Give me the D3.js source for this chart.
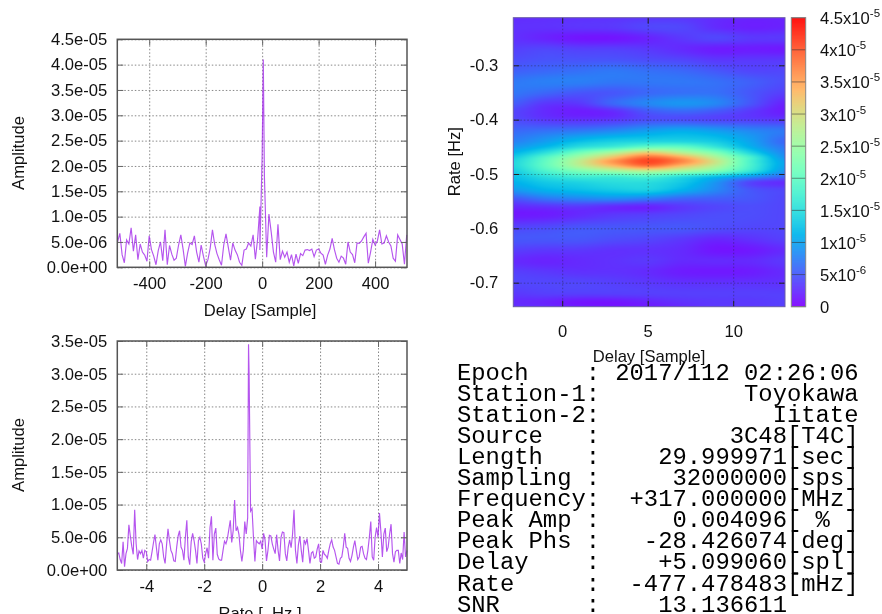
<!DOCTYPE html>
<html>
<head>
<meta charset="utf-8" />
<script src="https://cdn.jsdelivr.net/npm/d3@7"></script>
<style>
html, body { margin: 0; padding: 0; background: #fff; overflow: hidden; }
svg { display: block; filter: blur(0.55px); }
text { font-family: "Liberation Sans", Arial, sans-serif; font-size: 16.6px; fill: #111; }
.info text { font-family: "Liberation Mono", monospace; font-size: 23.85px; fill: #000; white-space: pre; }
.domain { display: none; }
</style>
</head>
<body>
<div id="chart"></div>
<script>
// all amplitudes below are in units of 1e-6
const delaySamples = d3.range(-512, 513, 8);
const delayAmp = [
    5.0, 6.7, 2.5, 0.9, 5.4, 4.6, 7.8, 3.2, 6.4, 1.5, 4.6, 3.0, 2.4, 1.2, 6.2, 3.5,
    2.2, 0.5, 3.3, 5.0, 1.3, 7.4, 0.5, 4.3, 2.6, 1.4, 1.8, 4.4, 6.4, 3.6, 0.2, 2.8,
    4.8, 4.5, 6.2, 3.0, 1.0, 4.4, 2.2, 0.3, 1.5, 3.8, 7.4, 4.5, 2.7, 1.5, 0.4, 4.4,
    6.6, 4.0, 1.4, 4.8, 3.4, 2.5, 1.0, 0.4, 3.4, 3.6, 4.8, 4.2, 6.4, 1.6, 5.6, 3.4,
    22.0, 18.0, 2.0, 10.5, 7.0, 3.0, 1.0, 8.5, 1.5, 3.2, 2.0, 3.0, 1.0, 2.5, 0.3, 2.6,
    0.8, 2.7, 2.3, 3.4, 3.5, 3.3, 3.6, 2.1, 3.4, 3.6, 2.8, 2.4, 0.6, 2.4, 3.6, 5.7,
    3.5, 1.8, 1.0, 2.2, 1.8, 0.6, 5.0, 3.0, 2.5, 0.9, 4.8, 4.7, 5.2, 6.0, 6.7, 0.8,
    3.0, 5.5, 4.4, 5.2, 7.4, 4.6, 4.8, 6.2, 5.0, 4.2, 1.8, 1.2, 6.4, 5.5, 4.6, 0.6, 6.4
];
const delayPeakSamples = [-8.01, -4, 4];
const delayPeakAmp = [12.0, 12.5, 41.0];

const rateHz = d3.range(0, 201).map(i => (i - 100) / 20);
const rateAmp = [
    2.4, 2.6, 1.6, 1.0, 4.3, 0.5, 2.5, 3.3, 6.9, 5.2, 3.6, 2.4, 9.2, 4.0, 1.6, 2.9,
    2.5, 3.0, 1.8, 3.0, 2.8, 1.3, 1.6, 1.5, 2.8, 4.2, 5.4, 3.4, 1.5, 4.0, 4.6, 4.0,
    2.0, 1.0, 3.8, 6.3, 4.5, 3.0, 2.5, 1.4, 1.3, 3.5, 5.2, 6.0, 3.5, 3.0, 1.5, 5.0,
    7.6, 2.0, 0.8, 4.3, 5.6, 4.5, 3.0, 1.0, 4.5, 5.0, 4.0, 1.8, 1.2, 2.5, 3.4, 1.8,
    6.5, 8.2, 1.5, 5.5, 6.4, 2.4, 1.7, 1.5, 1.5, 3.0, 4.4, 4.0, 4.8, 6.2, 7.6, 4.2,
    6.0, 10.7, 6.0, 6.5, 5.4, 3.0, 1.3, 3.0, 7.4, 5.5, 8.0, 30.0, 9.0, 9.4, 5.0, 1.3,
    4.5, 4.2, 4.0, 4.4, 3.2, 5.6, 4.6, 1.4, 3.0, 5.3, 5.2, 4.0, 3.2, 2.5, 5.4, 3.0,
    1.4, 5.0, 5.8, 5.7, 2.5, 1.4, 3.5, 4.6, 3.4, 5.5, 9.2, 3.0, 1.0, 3.8, 5.2, 3.0,
    1.2, 4.6, 4.0, 4.8, 3.0, 1.0, 2.6, 2.8, 1.8, 2.0, 3.2, 4.0, 1.3, 1.2, 3.0, 2.4,
    2.2, 1.8, 3.0, 4.0, 4.6, 3.5, 3.0, 2.0, 1.0, 0.9, 1.8, 2.0, 3.5, 5.6, 3.5, 3.3,
    1.8, 1.3, 2.2, 3.5, 4.5, 3.0, 1.6, 2.0, 3.5, 3.6, 2.5, 1.8, 1.6, 3.0, 5.0, 7.4,
    2.0, 1.5, 5.0, 6.5, 5.0, 8.7, 5.8, 2.0, 5.5, 6.4, 2.8, 3.5, 5.5, 7.0, 2.5, 1.2,
    2.8, 3.0, 3.0, 1.0, 2.6, 1.6, 5.8, 2.0, 3.0
];
const ratePeakHz = [-0.47];
const ratePeakAmp = [34.5];

const ampTicksTop = [0, 5e-6, 1e-5, 1.5e-5, 2e-5, 2.5e-5, 3e-5, 3.5e-5, 4e-5, 4.5e-5];
const ampLabelsTop = ["0.0e+00", "5.0e-06", "1.0e-05", "1.5e-05", "2.0e-05", "2.5e-05", "3.0e-05", "3.5e-05", "4.0e-05", "4.5e-05"];
const ampTicksBottom = ampTicksTop.slice(0, 8);
const ampLabelsBottom = ampLabelsTop.slice(0, 8);
const delayTicks = [-400, -200, 0, 200, 400];
const rateTicks = [-4, -2, 0, 2, 4];

// heat map, one row per rate
const mapDelays = [-3, -1, 1, 3, 5, 7, 9, 11, 13];
const mapRates = [-0.21, -0.23, -0.25, -0.27, -0.29, -0.31, -0.33, -0.35, -0.37, -0.385, -0.40, -0.42, -0.44, -0.45, -0.46, -0.47, -0.477, -0.485, -0.495, -0.505, -0.515, -0.53, -0.545, -0.56, -0.575, -0.60, -0.62, -0.64, -0.66, -0.68, -0.70, -0.72, -0.735, -0.745];
const mapValues = [
    [2.5, 2.6, 2.7, 2.8, 3, 3, 2.5, 2, 2],
    [2.8, 2.8, 3, 3.2, 4, 4, 2.5, 1.8, 2],
    [2.8, 2, 1.2, 1.2, 2, 3.2, 4, 3.2, 3.2],
    [3.6, 4, 3.6, 3.6, 3.2, 2.4, 1.6, 1.6, 1.4],
    [4.4, 4.8, 4.8, 4.8, 4.4, 4, 3.2, 3.2, 3.2],
    [5.5, 6, 6.5, 7, 6.5, 6, 5, 4, 4],
    [7, 7.5, 7.5, 7, 7, 7, 6.5, 5.5, 4.4],
    [7, 6, 5, 5, 6, 6.5, 6.5, 5, 3.6],
    [5.5, 3.2, 3.2, 6, 8, 9, 8, 5, 2],
    [4, 2.4, 1.6, 2.4, 5, 6, 5, 3.2, 1.6],
    [4.4, 3.2, 2.8, 3.2, 4.5, 4.5, 4, 3.6, 3.2],
    [6, 6.5, 7, 8, 9.5, 10.5, 9.5, 8, 7],
    [7.5, 9.5, 12, 13.5, 14, 14, 13, 10, 6],
    [9, 11.5, 15, 17, 20, 20, 16, 11, 7],
    [11, 15, 21, 26, 31, 27, 22, 14, 8],
    [13, 19, 26, 33, 39, 35, 27, 18, 9],
    [14, 20, 28, 36, 41, 37, 29, 18, 10],
    [14, 20, 27, 33, 38, 33, 27, 18, 10],
    [13, 18, 22, 25, 27, 25, 22, 16, 9],
    [12, 15, 17, 17, 18, 15, 12, 9, 6],
    [11, 13, 14, 15, 15, 13, 9, 4, 2.5],
    [9, 11, 12, 13, 13.5, 11, 8, 5, 4],
    [5, 7, 8, 8.5, 7.5, 6, 5.5, 5, 4],
    [2.4, 2.8, 3.2, 2.4, 2, 3.2, 4, 4.4, 4],
    [1.4, 1.6, 2.4, 3.2, 3.6, 4, 4.4, 4.4, 4],
    [4, 4.4, 5, 5, 5, 5, 4.4, 4, 4],
    [5, 5, 5, 4.4, 4, 3.2, 2.2, 2.8, 3.6],
    [3.6, 3.2, 3.2, 2.8, 2.8, 2.4, 1.2, 1.4, 2.4],
    [2.4, 2, 2.4, 2.8, 3.2, 2.4, 2.4, 2.4, 3.2],
    [3.6, 3.2, 2.8, 2.8, 2.4, 1.6, 1.4, 1.6, 2.4],
    [4, 4, 4, 3.6, 3.2, 2.8, 2.8, 2.8, 2.8],
    [3.2, 3.6, 3.6, 3.6, 3.6, 3.6, 3.6, 3.6, 3.6],
    [2.4, 2, 1.2, 1.2, 2, 2.8, 3.2, 3.2, 3.6],
    [2.8, 2.4, 1.6, 1.2, 1.6, 2.4, 3.2, 3.2, 3.6]
];
const mapDelayTicks = [0, 5, 10];
const mapRateTicks = [-0.3, -0.4, -0.5, -0.6, -0.7];
const colorTicks = [0, 5e-6, 1e-5, 1.5e-5, 2e-5, 2.5e-5, 3e-5, 3.5e-5, 4e-5, 4.5e-5];
const colorMantissa = ["0", "5", "1", "1.5", "2", "2.5", "3", "3.5", "4", "4.5"];
const colorExponent = ["", "-6", "-5", "-5", "-5", "-5", "-5", "-5", "-5", "-5"];

const infoLabels = ["Epoch    :", "Station-1:", "Station-2:", "Source   :", "Length   :", "Sampling :", "Frequency:", "Peak Amp :", "Peak Phs :", "Delay    :", "Rate     :", "SNR      :"];
const infoValues = ["2017/112 02:26:06", "Toyokawa", "Iitate", "3C48[T4C]", "29.999971[sec]", "32000000[sps]", "+317.000000[MHz]", "0.004096[ % ]", "-28.426074[deg]", "+5.099060[spl]", "-477.478483[mHz]", "13.136611     "];

const svg = d3.select("#chart").append("svg")
    .attr("width", 882)
    .attr("height", 614);

const lineColor = "#a32bea";

const drawLinePlot = (box, xDomain, yMax, xTicks, yTicks, yLabels, xs, ys) => {
    const x = d3.scaleLinear().domain(xDomain).range([box.left, box.right]);
    const y = d3.scaleLinear().domain([0, yMax]).range([box.bottom, box.top]);
    const w = box.right - box.left;
    const h = box.bottom - box.top;

    // dotted grid
    const gridX = svg.append("g").attr("transform", `translate(0,${box.bottom})`)
        .call(d3.axisBottom(x).tickValues(xTicks).tickSize(-h).tickFormat(""));
    const gridY = svg.append("g").attr("transform", `translate(${box.left},0)`)
        .call(d3.axisLeft(y).tickValues(yTicks).tickSize(-w).tickFormat(""));
    [gridX, gridY].forEach(g => g.selectAll("line")
        .attr("stroke", "#888").attr("stroke-width", 1).attr("stroke-dasharray", "1.5,2"));

    const points = d3.zip(xs, ys).sort((a, b) => a[0] - b[0]);
    svg.append("path")
        .attr("fill", "none")
        .attr("stroke", lineColor)
        .attr("stroke-width", 1.15)
        .attr("stroke-opacity", 0.8)
        .attr("d", d3.line().x(d => x(d[0])).y(d => y(d[1] * 1e-6))(points));

    // tick labels and inward ticks on all four sides
    const bottom = svg.append("g").attr("transform", `translate(0,${box.bottom})`)
        .call(d3.axisBottom(x).tickValues(xTicks).tickSize(-6).tickPadding(10).tickFormat(d => String(d)));
    const top = svg.append("g").attr("transform", `translate(0,${box.top})`)
        .call(d3.axisTop(x).tickValues(xTicks).tickSize(-6).tickFormat(""));
    const left = svg.append("g").attr("transform", `translate(${box.left},0)`)
        .call(d3.axisLeft(y).tickValues(yTicks).tickSize(-6).tickPadding(10).tickFormat((d, i) => yLabels[i]));
    const right = svg.append("g").attr("transform", `translate(${box.right},0)`)
        .call(d3.axisRight(y).tickValues(yTicks).tickSize(-6).tickFormat(""));
    [bottom, top, left, right].forEach(g => {
        g.attr("font-family", null).attr("font-size", null);
        g.selectAll("line").attr("stroke", "#666").attr("stroke-width", 1);
    });

    svg.append("rect")
        .attr("x", box.left).attr("y", box.top).attr("width", w).attr("height", h)
        .attr("fill", "none").attr("stroke", "#555").attr("stroke-width", 1.5);
};

const boxTop = { left: 117.3, right: 407, top: 39.3, bottom: 267.3 };
const boxBottom = { left: 117.3, right: 407, top: 341, bottom: 570 };

drawLinePlot(boxTop, [-513, 513], 4.5e-5, delayTicks, ampTicksTop, ampLabelsTop,
    delaySamples.concat(delayPeakSamples), delayAmp.concat(delayPeakAmp));
drawLinePlot(boxBottom, [-5, 5], 3.5e-5, rateTicks, ampTicksBottom, ampLabelsBottom,
    rateHz.concat(ratePeakHz), rateAmp.concat(ratePeakAmp));

const axisTitle = (text, x, y, rotate) => svg.append("text")
    .attr("text-anchor", "middle")
    .attr("transform", `translate(${x},${y})` + (rotate ? " rotate(-90)" : ""))
    .style("white-space", "pre")
    .text(text);

axisTitle("Delay [Sample]", 260, 316);
axisTitle("Amplitude", 24, 153, true);
axisTitle("Rate [  Hz ]", 260, 619);
axisTitle("Amplitude", 24, 455, true);
axisTitle("Delay [Sample]", 649, 361.5);
axisTitle("Rate [Hz]", 460, 161.7, true);

// heat map
const mapBox = { left: 513.3, right: 785, top: 17.7, bottom: 306.7 };
const mapX = d3.scaleLinear().domain([-2.86, 13.03]).range([mapBox.left, mapBox.right]);
const mapY = d3.scaleLinear().domain([-0.2124, -0.7442]).range([mapBox.top, mapBox.bottom]);

const rainbow = t => {
    const r = Math.abs(2 * t - 0.5);
    const g = Math.sin(Math.PI * t);
    const b = Math.cos(Math.PI * t / 2);
    return d3.rgb(255 * Math.min(1, r), 255 * Math.max(0, g), 255 * Math.max(0, b));
};
const color = d3.scaleSequential(rainbow).domain([0, 4.5e-5]).clamp(true);

const colIndex = d3.scaleLinear().domain(mapDelays).range(d3.range(mapDelays.length)).clamp(true);
const rowIndex = d3.scaleLinear().domain(mapRates).range(d3.range(mapRates.length)).clamp(true);

// catmull-rom between the table entries so the picture stays smooth
const cubic = (a, b, c, d, t) =>
    0.5 * (2 * b + (c - a) * t + (2 * a - 5 * b + 4 * c - d) * t * t + (3 * b - a - 3 * c + d) * t * t * t);
const at = (r, c) => mapValues[Math.max(0, Math.min(mapRates.length - 1, r))][Math.max(0, Math.min(mapDelays.length - 1, c))];
const sample = (delay, rate) => {
    const cf = colIndex(delay), rf = rowIndex(rate);
    const c = Math.min(Math.floor(cf), mapDelays.length - 2), r = Math.min(Math.floor(rf), mapRates.length - 2);
    const rows = [-1, 0, 1, 2].map(dr =>
        cubic(at(r + dr, c - 1), at(r + dr, c), at(r + dr, c + 1), at(r + dr, c + 2), cf - c));
    return cubic(rows[0], rows[1], rows[2], rows[3], rf - r);
};

const canvas = document.createElement("canvas");
canvas.width = Math.round(mapBox.right - mapBox.left);
canvas.height = Math.round(mapBox.bottom - mapBox.top);
const ctx = canvas.getContext("2d");
for (let py = 0; py < canvas.height; py++) {
    for (let px = 0; px < canvas.width; px++) {
        const v = sample(mapX.invert(mapBox.left + px + 0.5), mapY.invert(mapBox.top + py + 0.5));
        ctx.fillStyle = color(Math.max(0, v) * 1e-6);
        ctx.fillRect(px, py, 1, 1);
    }
}
svg.append("image")
    .attr("x", mapBox.left).attr("y", mapBox.top)
    .attr("width", mapBox.right - mapBox.left).attr("height", mapBox.bottom - mapBox.top)
    .attr("preserveAspectRatio", "none")
    .attr("href", canvas.toDataURL());

const mapW = mapBox.right - mapBox.left;
const mapH = mapBox.bottom - mapBox.top;
const mapGridX = svg.append("g").attr("transform", `translate(0,${mapBox.bottom})`)
    .call(d3.axisBottom(mapX).tickValues(mapDelayTicks).tickSize(-mapH).tickFormat(""));
const mapGridY = svg.append("g").attr("transform", `translate(${mapBox.left},0)`)
    .call(d3.axisLeft(mapY).tickValues(mapRateTicks).tickSize(-mapW).tickFormat(""));
[mapGridX, mapGridY].forEach(g => g.selectAll("line")
    .attr("stroke", "#222").attr("stroke-opacity", 0.4).attr("stroke-dasharray", "1.5,2"));

const mapBottom = svg.append("g").attr("transform", `translate(0,${mapBox.bottom})`)
    .call(d3.axisBottom(mapX).tickValues(mapDelayTicks).tickSize(-6).tickPadding(19).tickFormat(d => String(d)));
const mapTop = svg.append("g").attr("transform", `translate(0,${mapBox.top})`)
    .call(d3.axisTop(mapX).tickValues(mapDelayTicks).tickSize(-6).tickFormat(""));
const mapLeft = svg.append("g").attr("transform", `translate(${mapBox.left},0)`)
    .call(d3.axisLeft(mapY).tickValues(mapRateTicks).tickSize(-6).tickPadding(15).tickFormat(d => d.toFixed(1)));
const mapRight = svg.append("g").attr("transform", `translate(${mapBox.right},0)`)
    .call(d3.axisRight(mapY).tickValues(mapRateTicks).tickSize(-6).tickFormat(""));
[mapBottom, mapTop, mapLeft, mapRight].forEach(g => {
    g.attr("font-family", null).attr("font-size", null);
    g.selectAll("line").attr("stroke", "#222").attr("stroke-width", 1);
});
svg.append("rect")
    .attr("x", mapBox.left).attr("y", mapBox.top).attr("width", mapW).attr("height", mapH)
    .attr("fill", "none").attr("stroke", "#6a5ca8").attr("stroke-width", 1);

// colour bar
const barBox = { left: 791.3, right: 805.7, top: 17.7, bottom: 306.7 };
const barY = d3.scaleLinear().domain([0, 4.5e-5]).range([barBox.bottom, barBox.top]);
svg.append("g").selectAll("rect")
    .data(d3.range(barBox.top, barBox.bottom, 1))
    .enter()
    .append("rect")
    .attr("x", barBox.left)
    .attr("y", d => d)
    .attr("width", barBox.right - barBox.left)
    .attr("height", 1.2)
    .attr("fill", d => color(barY.invert(d + 0.5)));
svg.append("g").selectAll("line")
    .data(colorTicks)
    .enter()
    .append("line")
    .attr("x1", barBox.left).attr("x2", barBox.right)
    .attr("y1", d => barY(d)).attr("y2", d => barY(d))
    .attr("stroke", "#333").attr("stroke-opacity", 0.55);
svg.append("rect")
    .attr("x", barBox.left).attr("y", barBox.top)
    .attr("width", barBox.right - barBox.left).attr("height", barBox.bottom - barBox.top)
    .attr("fill", "none").attr("stroke", "#888").attr("stroke-width", 1);

const barLabels = svg.append("g").selectAll("text")
    .data(colorTicks)
    .enter()
    .append("text")
    .attr("x", 820)
    .attr("y", d => barY(d) + 6.5);
barLabels.append("tspan").text((d, i) => colorMantissa[i] + (colorExponent[i] ? "x10" : ""));
barLabels.append("tspan")
    .attr("dy", -7)
    .style("font-size", "11.5px")
    .text((d, i) => colorExponent[i]);

// info table
const rowY = d3.scaleLinear().domain([0, 11]).range([380, 611.6]);
const info = svg.append("g").attr("class", "info");
info.selectAll(".lab")
    .data(infoLabels)
    .enter()
    .append("text")
    .attr("class", "lab")
    .attr("x", 457)
    .attr("y", (d, i) => rowY(i))
    .text(d => d);
info.selectAll(".val")
    .data(infoValues)
    .enter()
    .append("text")
    .attr("class", "val")
    .attr("x", 858.5)
    .attr("y", (d, i) => rowY(i))
    .attr("text-anchor", "end")
    .text(d => d);
</script>
</body>
</html>
